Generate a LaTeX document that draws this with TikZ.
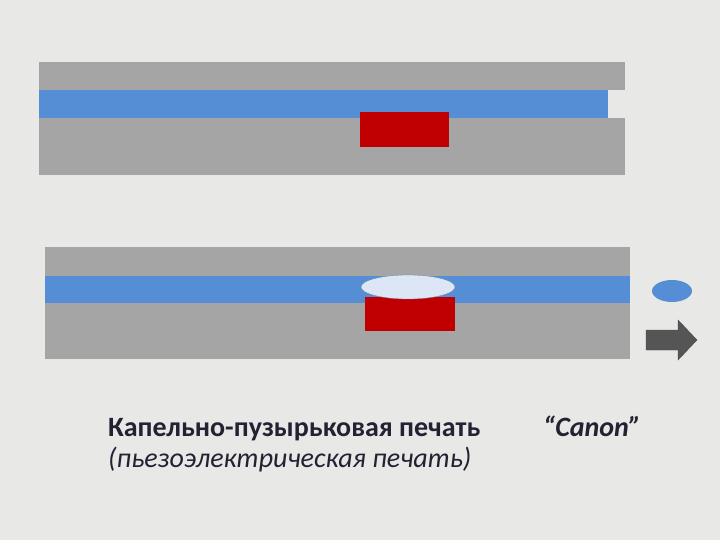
\documentclass[tikz,border=0pt]{standalone}
\usepackage{fontspec}
\setmainfont{Carlito}
\usetikzlibrary{shapes.geometric}
\begin{document}
\begin{tikzpicture}[x=1pt,y=-1pt,
  wall/.style={fill=plate,draw=none},
  channel/.style={fill=ink,draw=none},
  heater/.style={fill=heat,draw=none},
  lbl/.style={anchor=base west,inner sep=0pt,text=txt}]
\definecolor{bg}{HTML}{E8E8E6}
\definecolor{plate}{HTML}{A5A5A5}
\definecolor{ink}{HTML}{558ED5}
\definecolor{heat}{HTML}{C00000}
\definecolor{bubble}{HTML}{DCE6F4}
\definecolor{txt}{HTML}{222233}
\definecolor{arrowc}{HTML}{555555}
\fill[bg] (0,0) rectangle (720,540);
\useasboundingbox (0,0) rectangle (720,540);
% top head
\fill[wall] (39,62) rectangle (625,90);
\fill[wall] (39,118) rectangle (625,175);
\fill[channel] (39,90) rectangle (608,118);
\node[heater,minimum width=89pt,minimum height=35pt,inner sep=0pt] (h1) at (404.5,129.5) {};
% bottom head
\fill[wall] (45,247) rectangle (630,276);
\fill[wall] (45,303) rectangle (630,359);
\fill[channel] (45,276) rectangle (630,303);
\node[heater,minimum width=90pt,minimum height=34pt,inner sep=0pt] (h2) at (410,314) {};
\node[ellipse,fill=bubble,draw=ink!50!gray,line width=0.3pt,minimum width=94pt,minimum height=24pt,inner sep=0pt] (b) at (408,287) {};
% drop
\node[ellipse,fill=ink,draw=none,minimum width=40pt,minimum height=22pt,inner sep=0pt] (d) at (672,291) {};
% arrow
\fill[arrowc,draw=black!70,line width=0.4pt] (646,330) -- (678,330) -- (678,320) -- (697,340) -- (678,360) -- (678,350) -- (646,350) -- cycle;
% texts
\node[lbl,font=\fontsize{28}{32}\selectfont\bfseries] (t1) at (108,436) {Капельно-пузырьковая печать};
\node[lbl,font=\fontsize{28}{32}\selectfont\itshape] (t2) at (108,467) {(пьезоэлектрическая печать)};
\node[lbl,font=\fontsize{28}{32}\selectfont\bfseries\itshape] (t3) at (543,436) {“Canon”};
\end{tikzpicture}
\end{document}
